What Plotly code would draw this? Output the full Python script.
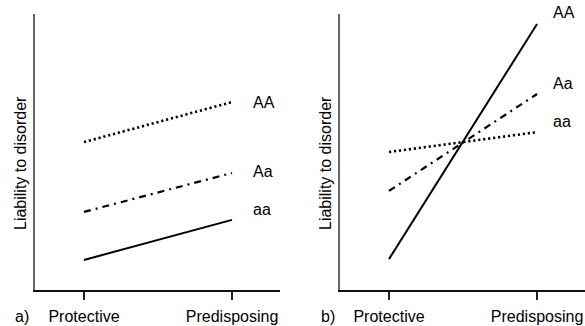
import plotly.graph_objects as go

# ---- data ----
x_categories = ["Protective", "Predisposing"]
genotypes = ["AA", "Aa", "aa"]

# Panel a) : parallel lines (no interaction)
a_AA = [5.36, 6.81]
a_Aa = [2.83, 4.24]
a_aa = [1.09, 2.54]

# Panel b) : crossing lines (interaction)
b_AA = [1.12, 9.64]
b_Aa = [3.59, 7.10]
b_aa = [5.00, 5.72]

x_vals = [0, 1]

W, H = 585, 326
FONT = "Liberation Sans, Arial, sans-serif"
FS = 16

fig = go.Figure()

dot_style = dict(color="black", width=2.6, dash="2.2px,2.8px")
dashdot_style = dict(color="black", width=2.2, dash="7px,5px,2px,5px")
solid_style = dict(color="black", width=2)

panel_a = [(a_AA, dot_style), (a_Aa, dashdot_style), (a_aa, solid_style)]
panel_b = [(b_AA, solid_style), (b_Aa, dashdot_style), (b_aa, dot_style)]

for ys, st in panel_a:
    fig.add_trace(go.Scatter(x=x_vals, y=ys, mode="lines", line=st,
                             xaxis="x", yaxis="y", showlegend=False, hoverinfo="skip"))
for ys, st in panel_b:
    fig.add_trace(go.Scatter(x=x_vals, y=ys, mode="lines", line=st,
                             xaxis="x2", yaxis="y2", showlegend=False, hoverinfo="skip"))

xcommon = dict(range=[-0.331, 1.324], tickvals=x_vals, ticktext=x_categories,
               ticks="outside", ticklen=8, tickwidth=1.5, tickcolor="#222222",
               showline=True, linecolor="#111111", linewidth=1.6, showgrid=False,
               zeroline=False, tickfont=dict(size=FS, color="black", family=FONT),
               ticklabelstandoff=3, automargin=False)
ycommon = dict(range=[0, 10], showticklabels=False, ticks="", showline=True,
               linecolor="#666666", linewidth=2, showgrid=False, zeroline=False,
               automargin=False)

ydom = [(H - 290) / H, (H - 14) / H]
fig.update_layout(
    width=W, height=H, margin=dict(l=0, r=0, t=0, b=0, autoexpand=False),
    paper_bgcolor="white", plot_bgcolor="white",
    font=dict(family=FONT, size=FS, color="black"),
    xaxis=dict(domain=[35 / W, 280 / W], anchor="y", **xcommon),
    yaxis=dict(domain=ydom, anchor="x", **ycommon),
    xaxis2=dict(domain=[340 / W, 1.0], anchor="y2", **xcommon),
    yaxis2=dict(domain=ydom, anchor="x2", **ycommon),
)

annotations = []
# genotype labels at the line ends
a_shifts = [0, 1, 10]
for g, (ys, _), ysh in zip(genotypes, panel_a, a_shifts):
    annotations.append(dict(x=1, y=ys[1], xref="x", yref="y", text=g, showarrow=False,
                            xanchor="left", yanchor="middle", xshift=19, yshift=ysh,
                            font=dict(size=FS, family=FONT)))
b_label_y = [b_AA[1], b_Aa[1], b_aa[1]]
for g, yv in zip(genotypes, b_label_y):
    annotations.append(dict(x=1, y=yv, xref="x2", yref="y2", text=g, showarrow=False,
                            xanchor="left", yanchor="middle", xshift=14, yshift=11,
                            font=dict(size=FS, family=FONT)))
# axis titles
for xp in [20 / W, 325 / W]:
    annotations.append(dict(x=xp, y=0.5, xref="paper", yref="paper",
                            text="Liability to disorder", textangle=-90, showarrow=False,
                            xanchor="center", yanchor="middle", font=dict(size=FS, family=FONT)))
# panel letters
for txt, xp in [("a)", 22 / W), ("b)", 328 / W)]:
    annotations.append(dict(x=xp, y=(H - 316) / H, xref="paper", yref="paper", text=txt,
                            showarrow=False, xanchor="center", yanchor="middle",
                            font=dict(size=FS, family=FONT)))
fig.update_layout(annotations=annotations)

fig.write_html("out.html", config={"displayModeBar": False},
               post_script="document.body.style.margin='0';document.body.style.overflow='hidden';")
